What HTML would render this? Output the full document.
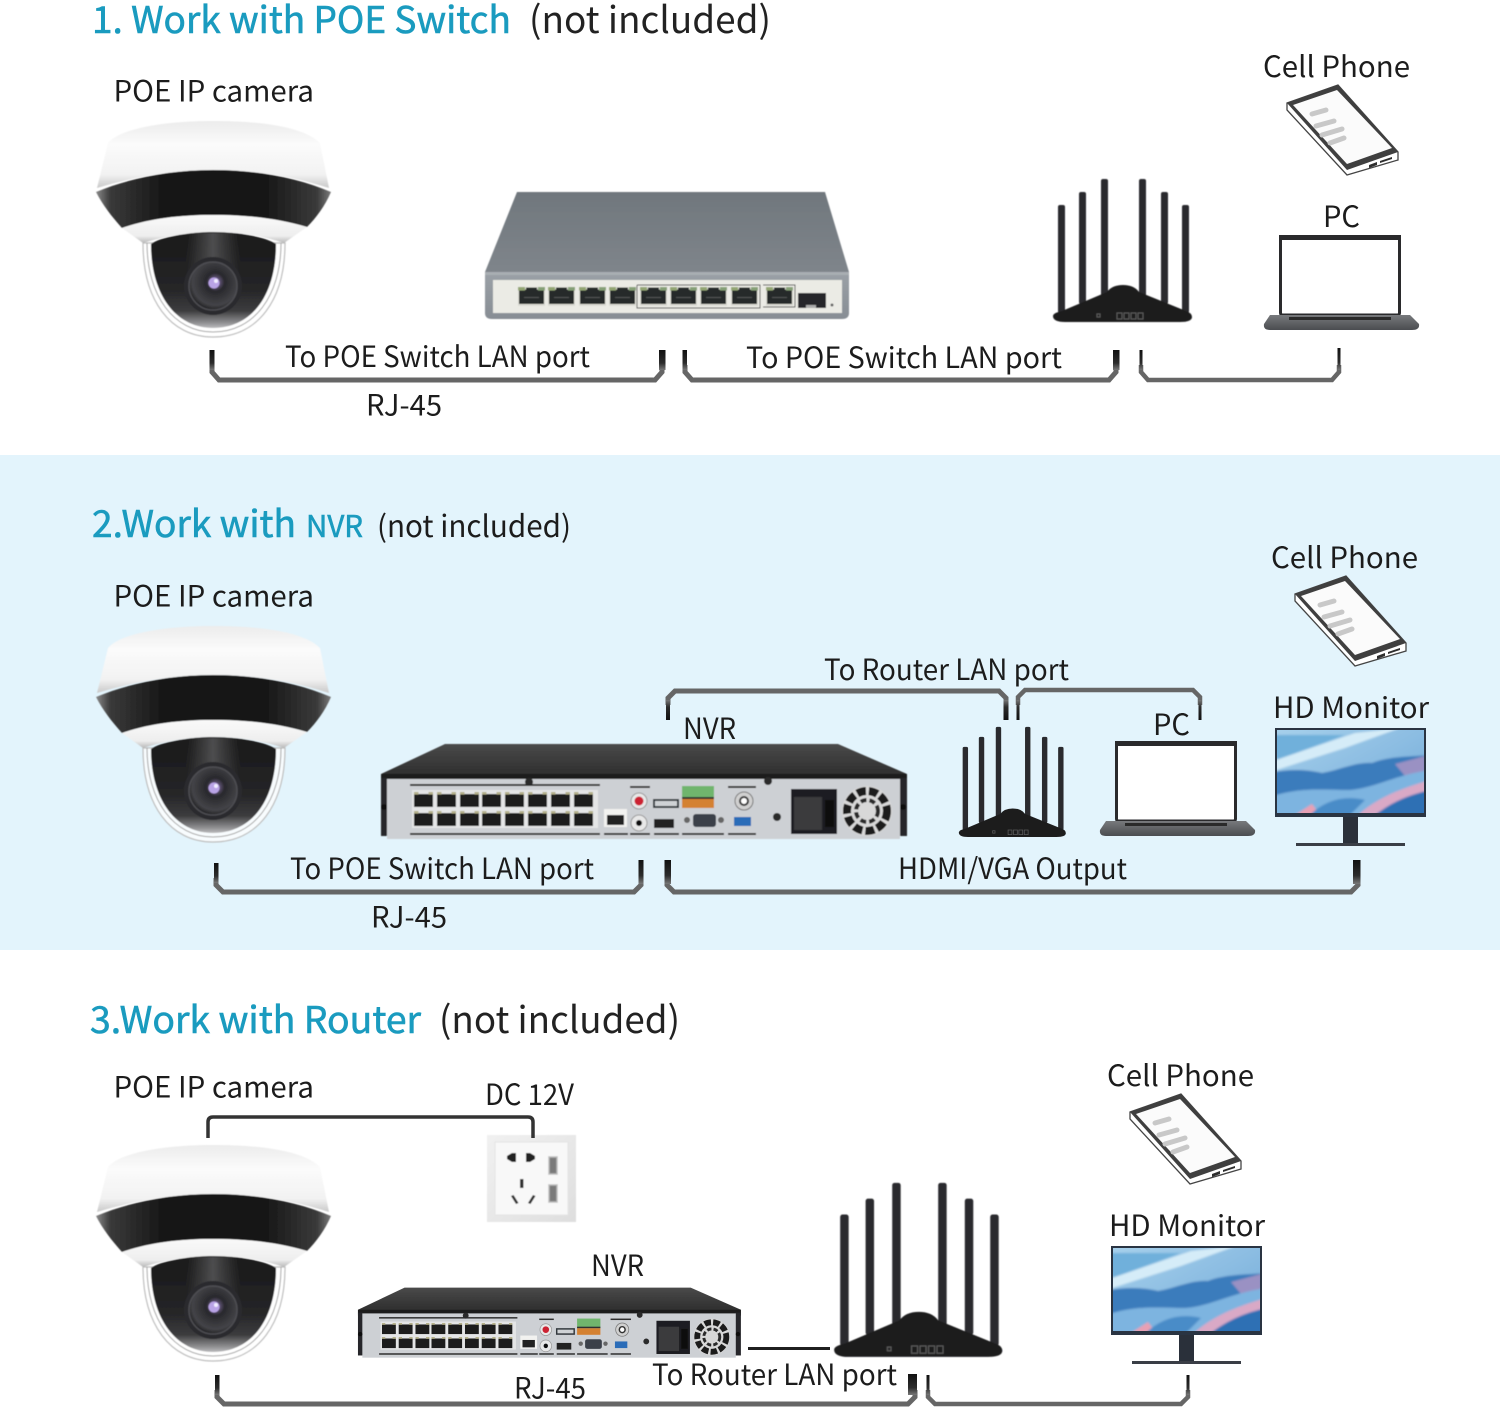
<!DOCTYPE html>
<html><head><meta charset="utf-8"><style>
html,body{margin:0;padding:0;background:#fff}
svg{display:block}
text{font-family:"Noto Sans CJK SC","Liberation Sans",sans-serif;fill:#1c1c1c;font-size:29px}
.t{fill:#1a9bbf;font-size:37px;stroke:#1a9bbf;stroke-width:.6px}
.n{fill:#222;font-size:37px}
</style></head><body>
<svg xmlns="http://www.w3.org/2000/svg" width="1500" height="1409" viewBox="0 0 1500 1409">
<defs>
<filter id="soft" x="-5%" y="-5%" width="110%" height="110%"><feGaussianBlur stdDeviation=".45"/></filter>
<filter id="soft2" x="-5%" y="-5%" width="110%" height="110%"><feGaussianBlur stdDeviation="1"/></filter>
<linearGradient id="stub" x1="0" y1="0" x2="0" y2="1"><stop offset="0" stop-color="#111"/><stop offset=".65" stop-color="#2c2c2c"/><stop offset="1" stop-color="#777"/></linearGradient>
<linearGradient id="stubr" x1="0" y1="1" x2="0" y2="0"><stop offset="0" stop-color="#111"/><stop offset=".65" stop-color="#2c2c2c"/><stop offset="1" stop-color="#777"/></linearGradient>
<linearGradient id="wh" x1="0" y1="0" x2="0" y2="1"><stop offset="0" stop-color="#ececec"/><stop offset=".35" stop-color="#fbfbfb"/><stop offset=".8" stop-color="#f2f2f2"/><stop offset="1" stop-color="#c9c9c9"/></linearGradient>
<linearGradient id="blk" x1="0" y1="0" x2="1" y2="0"><stop offset="0" stop-color="#8a8a8a"/><stop offset=".06" stop-color="#3a3a3a"/><stop offset=".3" stop-color="#141414"/><stop offset=".7" stop-color="#141414"/><stop offset=".94" stop-color="#3a3a3a"/><stop offset="1" stop-color="#7a7a7a"/></linearGradient>
<linearGradient id="ring" x1="0" y1="0" x2="0" y2="1"><stop offset="0" stop-color="#fafafa"/><stop offset=".75" stop-color="#eee"/><stop offset="1" stop-color="#b8b8b8"/></linearGradient>
<linearGradient id="dome" x1="0" y1="0" x2="0" y2="1"><stop offset="0" stop-color="#191919"/><stop offset=".6" stop-color="#262628"/><stop offset=".82" stop-color="#3c3c3e"/><stop offset=".94" stop-color="#8c8c8e"/><stop offset="1" stop-color="#bcbcbe"/></linearGradient>
<linearGradient id="strip" x1="0" y1="0" x2="1" y2="0"><stop offset="0" stop-color="#555" stop-opacity="0"/><stop offset=".5" stop-color="#5a5a5c" stop-opacity=".8"/><stop offset="1" stop-color="#555" stop-opacity="0"/></linearGradient>
<radialGradient id="lens" cx=".55" cy=".42" r=".6"><stop offset="0" stop-color="#a78ad8"/><stop offset=".16" stop-color="#5c5070"/><stop offset=".32" stop-color="#28282c"/><stop offset=".8" stop-color="#444448"/><stop offset="1" stop-color="#1c1c1e"/></radialGradient>
<linearGradient id="swtop" x1="0" y1="0" x2="0" y2="1"><stop offset="0" stop-color="#70777d"/><stop offset="1" stop-color="#7f858b"/></linearGradient>
<linearGradient id="swfr" x1="0" y1="0" x2="0" y2="1"><stop offset="0" stop-color="#9ba1a7"/><stop offset="1" stop-color="#878d94"/></linearGradient>
<linearGradient id="nvrtop" x1="0" y1="0" x2="0" y2="1"><stop offset="0" stop-color="#4a4a4a"/><stop offset="1" stop-color="#2a2a2a"/></linearGradient>
<linearGradient id="scr" x1="0" y1="0" x2="1" y2="1"><stop offset="0" stop-color="#a9d2ec"/><stop offset=".5" stop-color="#8cbde2"/><stop offset="1" stop-color="#6ca6d8"/></linearGradient>
<linearGradient id="out" x1="0" y1="0" x2="1" y2="1"><stop offset="0" stop-color="#f1f1f1"/><stop offset="1" stop-color="#dedede"/></linearGradient>
<linearGradient id="lpb" x1="0" y1="0" x2="0" y2="1"><stop offset="0" stop-color="#77797c"/><stop offset="1" stop-color="#4a4c50"/></linearGradient>

<g id="cam" filter="url(#soft)">
<path d="M108 143C122 127 170 121 213 121C262 121 304 127 320 143L329 188C298 178 260 170 213 170C170 170 130 178 97 188Z" fill="url(#wh)"/>
<path d="M96 192C130 178 170 170 213 170C258 170 298 178 331 192C325 206 316 218 307 227C280 219 250 215 213 215C178 215 148 219 122 228C112 217 102 204 96 192Z" fill="url(#blk)"/>
<path d="M122 228C148 219 178 215 213 215C250 215 280 219 307 227L284 243C260 235 238 232 213 232C190 232 165 236 143 243Z" fill="url(#ring)"/>
<path d="M143 243C143 300 170 337 213 337C258 337 285 300 285 243Z" fill="#fff" fill-opacity=".75" stroke="#bdbdbd" stroke-width="1.2"/>
<path d="M147 243C147 296 174 332 213 332C254 332 281 296 281 243" fill="none" stroke="#a4a4a4" stroke-width="1"/>
<path d="M151 244C160 237 190 232 213 232C240 232 265 237 276 244C276 295 252 328 213 328C176 328 151 295 151 244Z" fill="url(#dome)"/>
<rect x="186" y="233" width="54" height="50" fill="url(#strip)"/>
<circle cx="213" cy="286" r="29" fill="#2c2c2f"/><circle cx="213" cy="286" r="24" fill="url(#lens)" stroke="#4e4e52" stroke-width="1.5"/>
<circle cx="214" cy="283" r="5.500" fill="#b9a3e6"/><circle cx="216" cy="281" r="2" fill="#f0ecff"/>
</g>

<g id="rj"><rect x="0" y="0" width="27" height="19" fill="#dcdcd4"/><path d="M1 2.500H8V0.500H19V2.500H26V17H1Z" fill="#262a2c"/><rect x="0" y="0" width="7" height="3.500" fill="#93a673"/><rect x="20" y="0" width="7" height="3.500" fill="#86a077"/><rect x="6" y="10" width="15" height="1" fill="#555"/></g>

<g id="sw" filter="url(#soft)">
<path d="M517 192H825L849 272H485Z" fill="url(#swtop)"/>
<path d="M485 272H849V313Q849 319 842 319H492Q485 319 485 313Z" fill="url(#swfr)"/>
<rect x="485" y="272" width="364" height="3" fill="#a9aeb2"/>
<path d="M493 280H842V313H493Z" fill="#ebebe5"/>
<use href="#rj" x="518" y="287"/><use href="#rj" x="548" y="287"/><use href="#rj" x="579" y="287"/><use href="#rj" x="609" y="287"/>
<use href="#rj" x="640" y="287"/><use href="#rj" x="670" y="287"/><use href="#rj" x="700" y="287"/><use href="#rj" x="731" y="287"/>
<use href="#rj" x="766" y="287"/>
<path d="M637 285H760V308H637V285M763 285H795V307H763" fill="none" stroke="#444" stroke-width=".9"/>
<rect x="798" y="293" width="28" height="15" fill="#26282a"/><rect x="806" y="305" width="10" height="3" fill="#aaa"/>
<circle cx="832" cy="305" r="1.500" fill="#666"/>
</g>

<g id="rt" filter="url(#soft)">
<g fill="#2b2b2d">
<rect x="1058" y="205" width="7" height="108" rx="2"/><rect x="1079" y="192" width="7" height="112" rx="2"/><rect x="1101" y="179" width="7" height="118" rx="2"/>
<rect x="1139" y="179" width="7" height="118" rx="2"/><rect x="1161" y="192" width="7" height="112" rx="2"/><rect x="1182" y="205" width="7" height="108" rx="2"/>
</g>
<path d="M1053 316Q1053 313 1062 311L1107 292Q1112 285 1123 285Q1134 285 1139 292L1186 311Q1192 313 1192 317Q1192 322 1180 322H1065Q1053 322 1053 316Z" fill="#1d1d1f"/>
<path d="M1117 313h5v6h-5zM1124 313h5v6h-5zM1131 313h5v6h-5zM1138 313h5v6h-5zM1097 314h3v3h-3z" fill="none" stroke="#5a5a5a" stroke-width="1"/>
</g>

<g id="ph">
<path d="M1287 103L1338 85L1398 152L1398 160L1347 175L1287 110Z" fill="#fff" stroke="#444" stroke-width="1.300"/>
<path d="M1287 103L1338 85L1398 152L1347 170Z" fill="#3f3f3f"/>
<path d="M1293 105L1337 90L1392 148L1347 164Z" fill="#fbfbfb"/>
<g stroke="#c8c8c8" stroke-width="5" stroke-linecap="round"><path d="M1312 114L1326 110"/><path d="M1316 126L1334 121"/><path d="M1322 135L1342 129"/><path d="M1330 143L1344 138"/></g>
<path d="M1369 165l8-3v3l-8 3zM1380 161l12-4v2l-12 4z" fill="#2e2e2e"/>
</g>

<g id="lp">
<rect x="1280.500" y="237" width="119" height="78" rx="2" fill="#fff" stroke="#2a2a2c" stroke-width="3"/>
<rect x="1279" y="235" width="122" height="5" fill="#2a2a2c"/>
<path d="M1270 315H1410L1419 324Q1420 330 1412 330H1270Q1263 330 1264 324Z" fill="url(#lpb)"/>
<rect x="1289" y="317" width="102" height="3" fill="#2a2a2a"/>
</g>

<g id="mon">
<rect x="1343" y="816" width="15" height="28" fill="#2a303a"/>
<rect x="1296" y="843" width="109" height="3" fill="#3a3e46"/>
<rect x="1275" y="728" width="151" height="89" fill="#2a3442"/>
<svg x="1277" y="730" width="147" height="83" viewBox="1277 730 147 83">
<g filter="url(#soft2)">
<rect x="1270" y="725" width="160" height="95" fill="url(#scr)"/>
<path d="M1270 735H1345L1277 760Z" fill="#6fb0db"/>
<path d="M1270 762L1355 733L1400 728L1345 748L1270 772Z" fill="#d5ecf8"/>
<path d="M1270 773C1290 768 1310 770 1322 773C1340 770 1355 762 1372 763C1390 756 1410 757 1430 755V770C1395 775 1375 788 1350 790C1320 790 1300 787 1270 797Z" fill="#3a7cbc"/>
<path d="M1395 764L1425 756V772L1405 776Z" fill="#c39ac6" opacity=".7"/>
<path d="M1270 797C1300 787 1320 790 1350 790C1375 788 1395 775 1430 770V790L1370 815H1270Z" fill="#7db4e0"/>
<path d="M1295 815L1312 804L1320 815Z" fill="#e8a0b4"/>
<path d="M1358 815C1380 795 1410 786 1430 780V790L1380 815Z" fill="#d9a9c6"/>
<path d="M1375 815C1395 800 1410 795 1430 790V815Z" fill="#2e70b4"/>
<path d="M1310 815C1325 800 1345 795 1365 800L1350 815Z" fill="#4a8cc8"/>
</g></svg>
</g>

<g id="nrj"><rect width="19" height="13" fill="#1a1a1a"/><rect y="-2" width="4.500" height="2.500" fill="#b4b08a"/><rect x="14.500" y="-2" width="4.500" height="2.500" fill="#b4b08a"/></g>

<g id="nvr" filter="url(#soft)">
<path d="M445 744H838L907 774V780H381V774Z" fill="url(#nvrtop)"/>
<rect x="381" y="774" width="526" height="8" fill="#1f1f1f"/>
<rect x="381" y="778" width="7" height="58" fill="#26262a"/><rect x="899" y="778" width="8" height="58" fill="#26262a"/>
<rect x="387" y="779" width="513" height="60" fill="#cdd0d4"/>
<g fill="#2e2e2e"><rect x="410" y="784" width="190" height="2"/><rect x="410" y="833" width="190" height="2"/><rect x="604" y="833" width="24" height="2"/><rect x="630" y="786" width="20" height="2"/><rect x="630" y="833" width="20" height="2"/><rect x="654" y="833" width="25" height="2"/><rect x="682" y="833" width="42" height="2"/><rect x="728" y="786" width="28" height="2"/><rect x="728" y="833" width="28" height="2"/></g>
<rect x="412" y="790" width="186" height="38" fill="#e4e5e6"/>
<use href="#nrj" x="414" y="794"/><use href="#nrj" x="437" y="794"/><use href="#nrj" x="460" y="794"/><use href="#nrj" x="482" y="794"/><use href="#nrj" x="505" y="794"/><use href="#nrj" x="528" y="794"/><use href="#nrj" x="551" y="794"/><use href="#nrj" x="574" y="794"/>
<use href="#nrj" x="414" y="813"/><use href="#nrj" x="437" y="813"/><use href="#nrj" x="460" y="813"/><use href="#nrj" x="482" y="813"/><use href="#nrj" x="505" y="813"/><use href="#nrj" x="528" y="813"/><use href="#nrj" x="551" y="813"/><use href="#nrj" x="574" y="813"/>
<rect x="604" y="809" width="23" height="18" fill="#f2f2f0"/><rect x="607" y="815" width="17" height="10" fill="#222"/>
<circle cx="639" cy="801" r="8" fill="#e8e8e8" stroke="#999"/><circle cx="639" cy="801" r="4.500" fill="#c23"/><circle cx="639" cy="823" r="8" fill="#e8e8e8" stroke="#999"/><circle cx="639" cy="823" r="3" fill="#111"/>
<rect x="653" y="799" width="26" height="9" fill="#33373c"/><rect x="655" y="801" width="22" height="5" fill="#cfd2d5"/>
<rect x="654" y="819" width="20" height="9" fill="#202020"/>
<rect x="682" y="786" width="32" height="13" fill="#6fb56d"/><rect x="682" y="799" width="32" height="9" fill="#d48133"/><rect x="682" y="797" width="32" height="2" fill="#333"/>
<rect x="693" y="814" width="23" height="13" rx="3" fill="#3b414a"/><circle cx="687" cy="820" r="3" fill="#666"/><circle cx="721" cy="820" r="3" fill="#666"/>
<circle cx="744" cy="801" r="9" fill="#d0d0d0" stroke="#777"/><circle cx="744" cy="801" r="4" fill="#fff" stroke="#333" stroke-width="2"/>
<rect x="734" y="817" width="17" height="9" fill="#2c6cb8"/>
<circle cx="777" cy="817" r="4" fill="#2a2a2a"/>
<rect x="791" y="789" width="46" height="45" fill="#1f1f20"/><rect x="794" y="797" width="28" height="33" fill="#3a3a3c"/><rect x="825" y="800" width="9" height="27" fill="#111"/>
<circle cx="867" cy="811" r="25" fill="#d8d8d8"/>
<circle cx="867" cy="811" r="20" fill="none" stroke="#1a1a1a" stroke-width="8" stroke-dasharray="9 3"/>
<circle cx="867" cy="811" r="11" fill="none" stroke="#2a2a2a" stroke-width="4" stroke-dasharray="6 3"/>
<circle cx="529" cy="782" r="4" fill="#2a2a2a"/><circle cx="768" cy="781" r="4" fill="#2a2a2a"/><circle cx="384" cy="807" r="3" fill="#111"/><circle cx="903" cy="807" r="3" fill="#111"/>
</g>

<g id="outlet" filter="url(#soft)">
<rect x="487" y="1135" width="89" height="87" fill="url(#out)"/>
<rect x="495" y="1142" width="73" height="73" fill="#f8f8f8" stroke="#e4e4e4"/>
<path d="M507 1156l5-3h4v9h-4l-5-3zM526 1153h4l5 3v3l-5 3h-4z" fill="#222"/>
<rect x="520" y="1179" width="3.500" height="9" fill="#333"/>
<path d="M511 1196l2.500-1 5 8-2.500 1zM533 1195l2.500 1-5 8-2.500-1z" fill="#333"/>
<rect x="549" y="1157" width="8" height="17" fill="#7a7a7a" stroke="#bbb" stroke-width="1.500"/><rect x="549" y="1185" width="8" height="17" fill="#7a7a7a" stroke="#bbb" stroke-width="1.500"/>
</g>
</defs>

<rect width="1500" height="1409" fill="#fff"/>
<rect x="0" y="455" width="1500" height="495" fill="#e3f4fc"/>

<!-- Section 1 -->
<text class="t" x="92" y="33" textLength="419" lengthAdjust="spacingAndGlyphs">1. Work with POE Switch</text>
<text class="n" x="529" y="33" textLength="242" lengthAdjust="spacingAndGlyphs">(not included)</text>
<text x="113.500" y="101.500" textLength="200.500" lengthAdjust="spacingAndGlyphs">POE IP camera</text>
<text x="1263" y="77" textLength="147" lengthAdjust="spacingAndGlyphs">Cell Phone</text>
<text x="1323" y="227" textLength="37" lengthAdjust="spacingAndGlyphs">PC</text>
<use href="#cam"/><use href="#sw"/><use href="#rt"/><use href="#ph"/><use href="#lp"/>
<g fill="none" stroke="#666" stroke-width="5">
<path d="M212 365V372L219 380H655L662 372V365"/>
<path d="M685 365V372L692 380H1109L1116 372V365"/>
<path d="M1141 365V372L1148 380H1332L1339 372V365" stroke-width="4.500"/>
</g>
<rect x="209.500" y="350" width="5" height="20" fill="url(#stub)"/><rect x="659" y="350" width="6.500" height="20" fill="url(#stub)"/>
<rect x="682.500" y="350" width="4.500" height="20" fill="url(#stub)"/><rect x="1113" y="350" width="6.500" height="20" fill="url(#stub)"/>
<rect x="1139.500" y="350" width="3" height="20" fill="url(#stub)"/><rect x="1337.500" y="348" width="3" height="22" fill="url(#stub)"/>
<text x="285" y="367" textLength="305" lengthAdjust="spacingAndGlyphs">To POE Switch LAN port</text>
<text x="746" y="368" textLength="316" lengthAdjust="spacingAndGlyphs">To POE Switch LAN port</text>
<text x="366" y="415.500" textLength="76" lengthAdjust="spacingAndGlyphs">RJ-45</text>

<!-- Section 2 -->
<text class="t" x="92" y="537" textLength="204" lengthAdjust="spacingAndGlyphs">2.Work with</text>
<text class="t" x="306" y="537" textLength="57" lengthAdjust="spacingAndGlyphs" style="font-size:30px">NVR</text>
<text x="377" y="537" textLength="194" lengthAdjust="spacingAndGlyphs" style="font-size:30px">(not included)</text>
<text x="113.500" y="606.500" textLength="200.500" lengthAdjust="spacingAndGlyphs">POE IP camera</text>
<text x="1271" y="568" textLength="147" lengthAdjust="spacingAndGlyphs">Cell Phone</text>
<text x="1273" y="718" textLength="156" lengthAdjust="spacingAndGlyphs">HD Monitor</text>
<text x="824" y="680" textLength="245" lengthAdjust="spacingAndGlyphs">To Router LAN port</text>
<text x="683" y="739" textLength="53" lengthAdjust="spacingAndGlyphs">NVR</text>
<text x="1153" y="735" textLength="37" lengthAdjust="spacingAndGlyphs">PC</text>
<use href="#cam" transform="translate(0 505)"/>
<use href="#nvr"/>
<use href="#rt" transform="translate(148 589) scale(.77)"/>
<use href="#ph" transform="translate(8 491)"/>
<use href="#lp" transform="translate(-164 506)"/>
<use href="#mon"/>
<g fill="none" stroke="#666" stroke-width="5">
<path d="M216 878V885L223 892H634L641 885V878"/>
<path d="M667 878V885L674 892H1351L1358 885V878"/>
<path d="M668 705V698L675 691H999L1006 698V705"/>
<path d="M1018 705V697L1025 690H1193L1200 697V705" stroke-width="4.500"/>
</g>
<rect x="214" y="863" width="4.500" height="20" fill="url(#stub)"/><rect x="638.500" y="860" width="5" height="24" fill="url(#stub)"/>
<rect x="664.500" y="860" width="6.500" height="24" fill="url(#stub)"/><rect x="1353" y="860" width="7.500" height="24" fill="url(#stub)"/>
<rect x="666" y="700" width="4" height="20" fill="url(#stubr)"/>
<rect x="1003.500" y="700" width="5" height="20" fill="url(#stubr)"/>
<rect x="1016.500" y="700" width="3" height="20" fill="url(#stubr)"/>
<rect x="1198.500" y="700" width="3" height="20" fill="url(#stubr)"/>
<text x="290" y="879" textLength="304" lengthAdjust="spacingAndGlyphs">To POE Switch LAN port</text>
<text x="898" y="879" textLength="229" lengthAdjust="spacingAndGlyphs">HDMI/VGA Output</text>
<text x="371" y="927.500" textLength="76" lengthAdjust="spacingAndGlyphs">RJ-45</text>

<!-- Section 3 -->
<text class="t" x="90" y="1033" textLength="331" lengthAdjust="spacingAndGlyphs">3.Work with Router</text>
<text class="n" x="439" y="1033" textLength="241" lengthAdjust="spacingAndGlyphs">(not included)</text>
<text x="113.500" y="1097.500" textLength="200.500" lengthAdjust="spacingAndGlyphs">POE IP camera</text>
<text x="485" y="1105" textLength="89" lengthAdjust="spacingAndGlyphs">DC 12V</text>
<text x="1107" y="1086" textLength="147" lengthAdjust="spacingAndGlyphs">Cell Phone</text>
<text x="1109" y="1236" textLength="156" lengthAdjust="spacingAndGlyphs">HD Monitor</text>
<text x="591" y="1276" textLength="53" lengthAdjust="spacingAndGlyphs">NVR</text>
<use href="#cam" transform="translate(0 1024)"/>
<use href="#outlet"/>
<use href="#nvr" transform="translate(80.600 738.500) scale(.728 .738)"/>
<use href="#rt" transform="translate(-440 965) scale(1.21 1.217)"/>
<use href="#ph" transform="translate(-157 1009)"/>
<use href="#mon" transform="translate(-164 518)"/>
<path d="M208 1138V1122Q208 1117 213 1117H528Q533 1117 533 1122V1138" fill="none" stroke="#333" stroke-width="3.500"/>
<rect x="748" y="1347" width="82" height="3" fill="#1f1f1f"/>
<g fill="none" stroke="#666" stroke-width="5">
<path d="M217 1390V1397L224 1404H908L915 1397V1390"/>
<path d="M928 1390V1397L935 1404H1181L1188 1397V1390" stroke-width="4.500"/>
</g>
<rect x="215" y="1375" width="4.500" height="20" fill="url(#stub)"/><rect x="908" y="1374" width="9" height="21" fill="url(#stub)"/>
<rect x="926.500" y="1375" width="3" height="20" fill="url(#stub)"/><rect x="1186.500" y="1375" width="3" height="20" fill="url(#stub)"/>
<text x="652" y="1385" textLength="245" lengthAdjust="spacingAndGlyphs">To Router LAN port</text>
<text x="514" y="1398.500" textLength="72" lengthAdjust="spacingAndGlyphs">RJ-45</text>
</svg>
</body></html>
